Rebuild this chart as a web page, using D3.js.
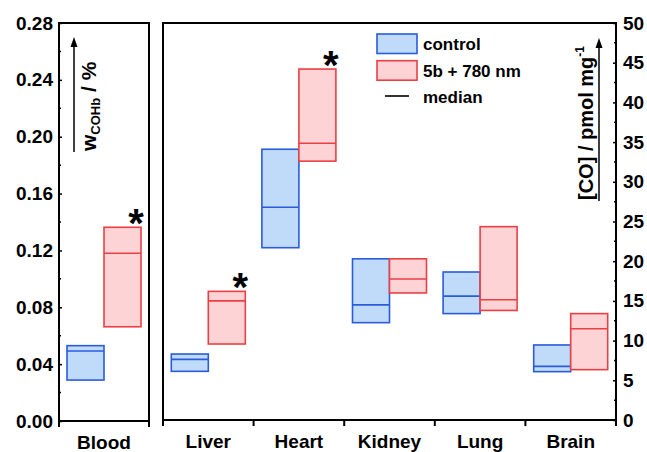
<!DOCTYPE html>
<html><head><meta charset="utf-8">
<script src="https://cdn.jsdelivr.net/npm/d3@7"></script>
<style>
body{margin:0;background:#fff;}
text{font-family:"Liberation Sans",Arial,sans-serif;font-weight:bold;}
</style></head>
<body><svg id="c" width="647" height="452"></svg>
<script>
// ---- data ----
const bloodCategories = ["Blood"];
const bloodControl = [{low:0.0288, med:0.0492, high:0.0530}];
const bloodTreated = [{low:0.0663, med:0.1180, high:0.1363}];
const bloodStar = [true];
const bloodTicks = [0.00,0.04,0.08,0.12,0.16,0.20,0.24,0.28];

const organCategories = ["Liver","Heart","Kidney","Lung","Brain"];
const controlLow  = [6.13, 21.7, 12.26, 13.4, 6.09];
const controlMed  = [7.64, 26.8, 14.5, 15.6, 6.76];
const controlHigh = [8.31, 34.1, 20.3, 18.64, 9.45];
const treatedLow  = [9.57, 32.6, 16.0, 13.8, 6.34];
const treatedMed  = [15.0, 34.85, 17.76, 15.15, 11.5];
const treatedHigh = [16.2, 44.2, 20.3, 24.35, 13.4];
const organStar = [true, true, false, false, false];
const organTicks = [0,5,10,15,20,25,30,35,40,45,50];

const legendLabels = ["control","5b + 780 nm","median"];

// ---- style ----
const CTRL_FILL="#c0dbfa", CTRL_STROKE="#2a5bdc";
const TRT_FILL="#fdd3d6", TRT_STROKE="#ec3f44";

const svg=d3.select("#c");

function panel(cfg){
  const g=svg.append("g");
  const x=d3.scaleBand().domain(cfg.cats).range([cfg.x0,cfg.x1]);
  const y=d3.scaleLinear().domain(cfg.domain).range([cfg.yb,cfg.yt]);
  const bw=37;
  // boxes
  cfg.cats.forEach((c,i)=>{
    const cx=x(c)+x.bandwidth()/2;
    [[cfg.ctrl[i],cx-bw,CTRL_FILL,CTRL_STROKE],[cfg.trt[i],cx,TRT_FILL,TRT_STROKE]].forEach(([d,xl,f,s])=>{
      g.append("rect").attr("x",xl).attr("width",bw)
        .attr("y",y(d.high)).attr("height",y(d.low)-y(d.high))
        .attr("fill",f).attr("stroke",s).attr("stroke-width",1.6);
      g.append("line").attr("x1",xl).attr("x2",xl+bw)
        .attr("y1",y(d.med)).attr("y2",y(d.med))
        .attr("stroke",s).attr("stroke-width",1.6);
    });
    if(cfg.star[i]){
      g.append("text").attr("x",cx+bw-5).attr("y",y(cfg.trt[i].high)+10)
        .attr("text-anchor","middle").attr("font-size",40).text("*");
    }
  });
  // frame
  g.append("rect").attr("x",cfg.x0).attr("y",cfg.yt).attr("width",cfg.x1-cfg.x0)
    .attr("height",cfg.yb-cfg.yt).attr("fill","none").attr("stroke","#000").attr("stroke-width",2);
  // value axis
  const ax = cfg.side==="left"
    ? d3.axisLeft(y).tickValues(cfg.ticks).tickFormat(d3.format(cfg.fmt)).tickSizeInner(-3).tickSizeOuter(0).tickPadding(6)
    : d3.axisRight(y).tickValues(cfg.ticks).tickFormat(d3.format(cfg.fmt)).tickSizeInner(-3).tickSizeOuter(0).tickPadding(7);
  const ag=g.append("g").attr("transform",`translate(${cfg.side==="left"?cfg.x0:cfg.x1},0)`).call(ax);
  ag.select(".domain").remove();
  ag.selectAll(".tick line").attr("stroke","#000").attr("stroke-width",1.5);
  ag.selectAll(".tick text").attr("font-size",19).attr("fill","#000");
  // minor ticks
  const minors=[];
  for(let k=0;k<cfg.ticks.length-1;k++) minors.push((cfg.ticks[k]+cfg.ticks[k+1])/2);
  const mx=cfg.side==="left"?cfg.x0:cfg.x1, dir=cfg.side==="left"?1:-1;
  g.selectAll(null).data(minors).enter().append("line")
    .attr("x1",mx).attr("x2",mx+dir*2).attr("y1",d=>y(d)).attr("y2",d=>y(d))
    .attr("stroke","#000").attr("stroke-width",1.5);
  // category axis
  const bounds=cfg.cats.map(c=>x(c)).concat([cfg.x1]);
  g.selectAll(null).data(bounds).enter().append("line")
    .attr("x1",d=>d).attr("x2",d=>d).attr("y1",cfg.yb).attr("y2",cfg.yb+6)
    .attr("stroke","#000").attr("stroke-width",2);
  const bx=d3.axisBottom(x).tickSize(0).tickPadding(15);
  const bg=g.append("g").attr("transform",`translate(0,${cfg.yb})`).call(bx);
  bg.select(".domain").remove();
  bg.selectAll(".tick text").attr("font-size",19).attr("fill","#000");
  return {g,x,y};
}

const toObj=(lo,me,hi)=>lo.map((v,i)=>({low:v,med:me[i],high:hi[i]}));

panel({cats:bloodCategories,x0:59,x1:149,yt:23,yb:421,domain:[0,0.28],
  ctrl:bloodControl,trt:bloodTreated,star:bloodStar,ticks:bloodTicks,fmt:".2f",side:"left"});
panel({cats:organCategories,x0:163,x1:616,yt:23,yb:420,domain:[0,50],
  ctrl:toObj(controlLow,controlMed,controlHigh),trt:toObj(treatedLow,treatedMed,treatedHigh),
  star:organStar,ticks:organTicks,fmt:"d",side:"right"});

function arrow(x,y1,y2){
  svg.append("line").attr("x1",x).attr("x2",x).attr("y1",y1).attr("y2",y2+8)
    .attr("stroke","#000").attr("stroke-width",1.5);
  svg.append("path").attr("d",`M${x-3.5},${y2+10} L${x},${y2} L${x+3.5},${y2+10} Z`).attr("fill","#000");
}
// left axis title
arrow(74,152,37);
const lt=svg.append("text").attr("transform","translate(96,151) rotate(-90)").attr("font-size",21);
lt.append("tspan").text("w");
lt.append("tspan").attr("font-size",13).attr("dy",4).text("COHb");
lt.append("tspan").attr("dy",-4).text(" / %");
// right axis title
arrow(599,201,38);
const rt=svg.append("text").attr("transform","translate(593,200) rotate(-90)").attr("font-size",20);
rt.append("tspan").text("[CO] / pmol mg");
rt.append("tspan").attr("font-size",12).attr("dy",-9).text("-1");

// legend
const lg=svg.append("g");
[[CTRL_FILL,CTRL_STROKE],[TRT_FILL,TRT_STROKE]].forEach(([f,s],i)=>{
  lg.append("rect").attr("x",377).attr("y",34+i*26.7).attr("width",40).attr("height",19.5)
    .attr("fill",f).attr("stroke",s).attr("stroke-width",1.6);
});
lg.append("line").attr("x1",385).attr("x2",409).attr("y1",96).attr("y2",96).attr("stroke","#000").attr("stroke-width",1.6);
legendLabels.forEach((t,i)=>{
  lg.append("text").attr("x",423).attr("y",50+i*26.7).attr("font-size",17).text(t);
});
</script></body></html>
